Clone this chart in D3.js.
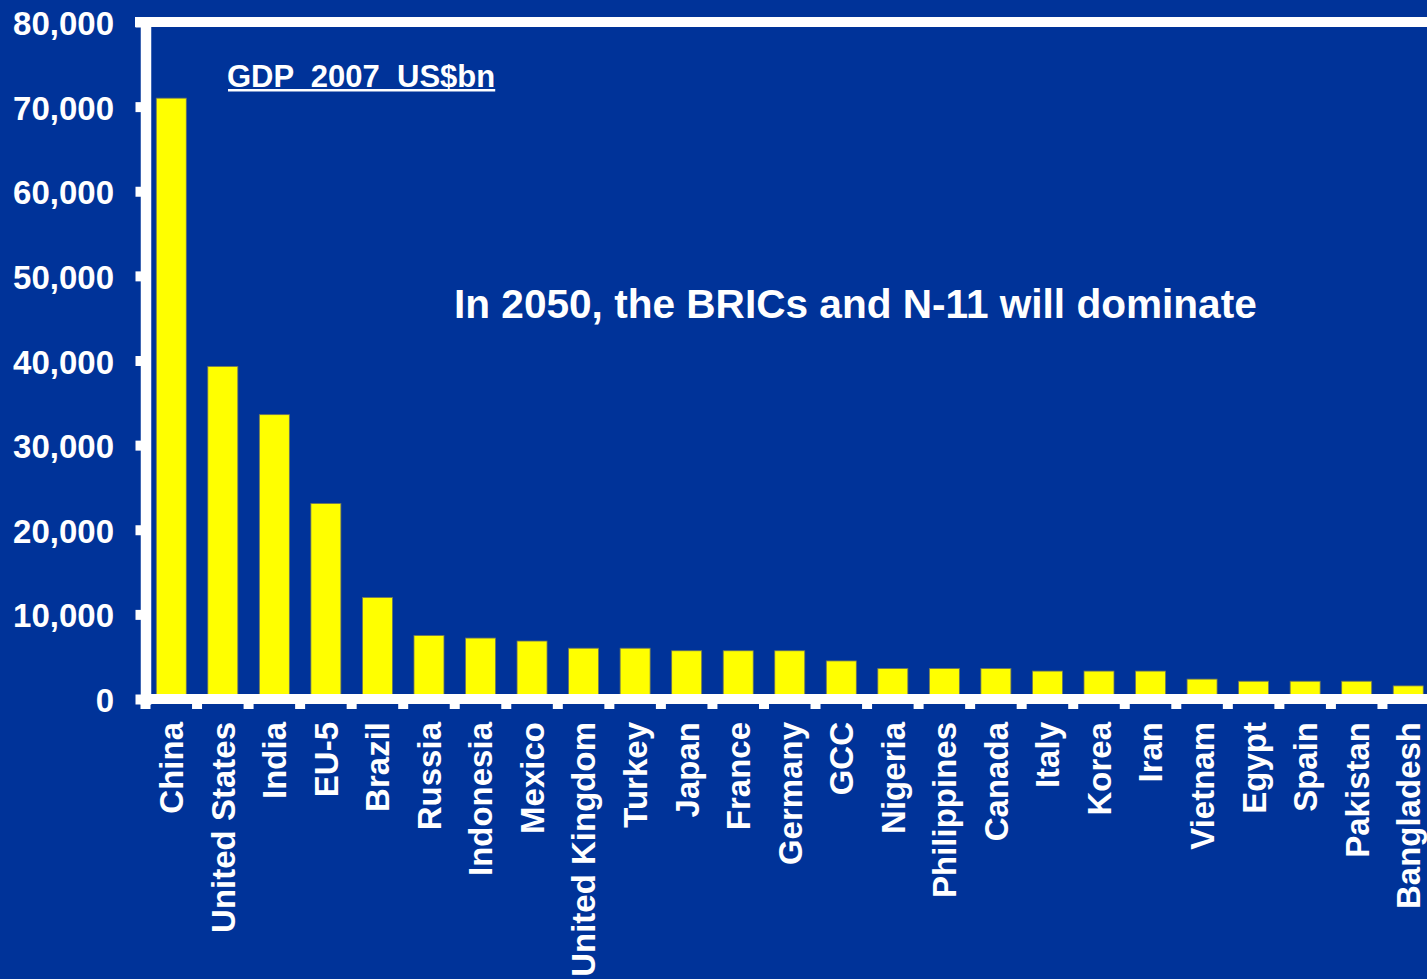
<!DOCTYPE html>
<html>
<head>
<meta charset="utf-8">
<script src="https://cdn.jsdelivr.net/npm/d3@7"></script>
<style>
  html, body { margin: 0; padding: 0; background: #003399; overflow: hidden; }
  text { font-family: "Liberation Sans", Arial, sans-serif; font-weight: bold; fill: #fff; }
</style>
</head>
<body>
<script>
var width = 1427,
  height = 979;

// Data: GDP 2050 (US$bn)
var countries = ["China", "United States", "India", "EU-5", "Brazil", "Russia", "Indonesia", "Mexico",
  "United Kingdom", "Turkey", "Japan", "France", "Germany", "GCC", "Nigeria", "Philippines", "Canada",
  "Italy", "Korea", "Iran", "Vietnam", "Egypt", "Spain", "Pakistan", "Bangladesh"];
var gdp = [71000, 39300, 33600, 23100, 12000, 7500, 7200, 6850,
  6000, 6000, 5700, 5700, 5700, 4500, 3600, 3600, 3600,
  3300, 3300, 3300, 2350, 2100, 2100, 2100, 1550];
var yTicks = [0, 10000, 20000, 30000, 40000, 50000, 60000, 70000, 80000];
var seriesLabel = "GDP  2007  US$bn";
var headline = "In 2050, the BRICs and N-11 will dominate";

var data = countries.map(function (c, i) { return { name: c, value: gdp[i] }; });

var svg = d3.select("body").append("svg")
  .attr("width", width)
  .attr("height", height)

svg.append("rect")
  .attr("width", width)
  .attr("height", height)
  .attr("fill", "#003399");

// scales
var x0 = 145.5, step = 51.54;
var x = d3.scaleBand()
  .domain(countries)
  .range([x0, x0 + step * countries.length])
  .paddingInner(0.418)
  .paddingOuter(0.209);

var y = d3.scaleLinear()
  .domain([0, 80000])
  .range([699, 22]);

// bars
svg.append("g")
  .selectAll("rect")
  .data(data)
  .enter()
  .append("rect")
  .attr("x", function (d) { return x(d.name); })
  .attr("width", x.bandwidth())
  .attr("y", function (d) { return y(d.value); })
  .attr("height", function (d) { return y(0) - y(d.value); })
  .attr("fill", "#ffff00")
  .attr("stroke", "#6d7560")
  .attr("stroke-width", 0.8);

// top border
svg.append("line")
  .attr("x1", 135).attr("x2", width + 20)
  .attr("y1", y(80000)).attr("y2", y(80000))
  .attr("stroke", "#fff").attr("stroke-width", 10);

// bottom axis line + boundary ticks
svg.append("line")
  .attr("x1", x0).attr("x2", width + 20)
  .attr("y1", y(0)).attr("y2", y(0))
  .attr("stroke", "#fff").attr("stroke-width", 10);

var bounds = countries.map(function (c) { return x(c) - x.step() * x.paddingInner() / 2; });
svg.append("g")
  .selectAll("line")
  .data(bounds)
  .enter()
  .append("line")
  .attr("x1", function (d) { return d; })
  .attr("x2", function (d) { return d; })
  .attr("y1", y(0))
  .attr("y2", y(0) + 10)
  .attr("stroke", "#fff")
  .attr("stroke-width", 10);

// y axis
var yAxis = svg.append("g")
  .attr("transform", "translate(" + x0 + ",0)")
  .call(d3.axisLeft(y)
    .tickValues(yTicks)
    .tickSize(10)
    .tickSizeOuter(0)
    .tickPadding(21.5)
    .tickFormat(d3.format(",")));

yAxis.select(".domain")
  .attr("stroke", "#fff")
  .attr("stroke-width", 10.5)
  .attr("stroke-linecap", "square");
yAxis.selectAll(".tick line")
  .attr("stroke", "#fff")
  .attr("stroke-width", 10);
yAxis.selectAll(".tick text")
  .attr("fill", "#fff")
  .attr("dy", "0.38em")
  .style("font-size", "33px")
  .style("font-family", "'Liberation Sans', Arial, sans-serif")
  .style("font-weight", "bold");

// category labels
svg.append("g")
  .selectAll("text")
  .data(countries)
  .enter()
  .append("text")
  .attr("transform", function (d) { return "translate(" + (x(d) + x.bandwidth() / 2) + ",722) rotate(-90)"; })
  .attr("text-anchor", "end")
  .attr("dy", "0.36em")
  .style("font-size", "33px")
  .text(function (d) { return d; });

// series label, underlined
var lab = svg.append("text")
  .attr("x", 227)
  .attr("y", 87)
  .style("font-size", "31px")
  .style("white-space", "pre")
  .text(seriesLabel);
var labW = lab.node().getComputedTextLength();
svg.append("rect")
  .attr("x", 228)
  .attr("y", 89)
  .attr("width", labW - 1)
  .attr("height", 2.5)
  .attr("fill", "#fff");

// headline
svg.append("text")
  .attr("x", 454)
  .attr("y", 318)
  .style("font-size", "40.6px")
  .text(headline);
</script>
</body>
</html>
